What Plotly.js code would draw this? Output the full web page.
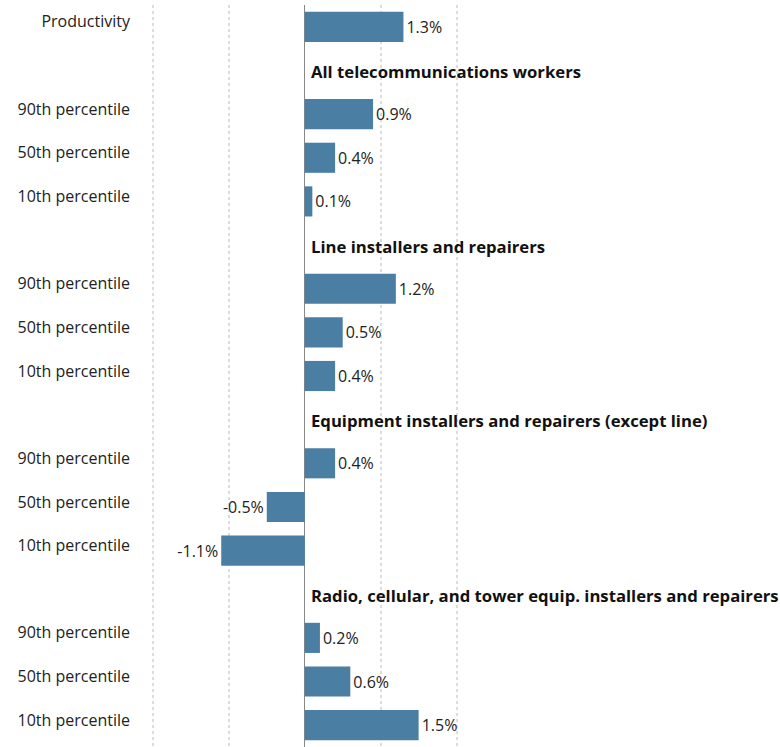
<!DOCTYPE html>
<html><head><meta charset="utf-8">
<script src="https://cdn.plot.ly/plotly-3.0.1.min.js"></script>
<style>html,body{margin:0;padding:0;background:#fff}</style>
</head><body>
<div id="chart" style="width:780px;height:747px"></div>
<script>
const productivityLabel = "Productivity";
const productivityValue = 1.3;
const groupNames = [
  "All telecommunications workers",
  "Line installers and repairers",
  "Equipment installers and repairers (except line)",
  "Radio, cellular, and tower equip. installers and repairers"
];
const percentileLabels = ["90th percentile", "50th percentile", "10th percentile"];
const telecomValues = [0.9, 0.4, 0.1];
const lineValues = [1.2, 0.5, 0.4];
const equipmentValues = [0.4, -0.5, -1.1];
const radioValues = [0.2, 0.6, 1.5];
const gridTicks = [-2, -1, 0, 1, 2];

const groupValues = [telecomValues, lineValues, equipmentValues, radioValues];
const rowLabels = [productivityLabel];
const rowValues = [productivityValue];
const headerRows = [];
groupNames.forEach((g, i) => {
  headerRows.push({row: rowLabels.length, text: g});
  rowLabels.push("");
  rowValues.push(null);
  percentileLabels.forEach((p, j) => {
    rowLabels.push(p);
    rowValues.push(groupValues[i][j]);
  });
});
const rowIdx = rowLabels.map((_, i) => i);
const barRows = rowIdx.filter(i => rowValues[i] !== null);

const FONT = "'Open Sans', sans-serif";
const trace = {
  type: "bar",
  orientation: "h",
  y: barRows,
  x: barRows.map(i => rowValues[i]),
  width: 0.69,
  marker: {color: "#4a7ea3"},
  text: barRows.map(i => rowValues[i].toFixed(1) + "%"),
  textposition: "outside",
  textfont: {family: FONT, size: 16, color: "#222"},
  cliponaxis: false,
  hoverinfo: "skip"
};

const layout = {
  width: 780, height: 747,
  margin: {l: 140, r: 0, t: 5, b: 0},
  paper_bgcolor: "#fff", plot_bgcolor: "#fff",
  showlegend: false,
  xaxis: {
    range: [-2.17, 6.26],
    tickvals: gridTicks,
    showticklabels: false,
    showgrid: true, gridcolor: "#dcdcdc", gridwidth: 2, griddash: "dot",
    zeroline: true, zerolinecolor: "#888", zerolinewidth: 1,
    fixedrange: true
  },
  yaxis: {
    range: [rowLabels.length - 0.5, -0.5],
    tickvals: rowIdx,
    ticktext: rowLabels,
    showgrid: false, zeroline: false,
    ticks: "", ticklabelstandoff: 9, ticklabelshift: 5,
    tickfont: {family: FONT, size: 16, color: "#222"}
  },
  annotations: headerRows.map(h => ({
    x: 0, y: h.row, xref: "x", yref: "y",
    text: "<b>" + h.text + "</b>",
    showarrow: false, xanchor: "left", yanchor: "middle",
    xshift: 4, yshift: -1,
    font: {family: FONT, size: 16.7, color: "#111"}
  }))
};
Plotly.newPlot("chart", [trace], layout, {displayModeBar: false, staticPlot: true});
</script>
</body></html>
